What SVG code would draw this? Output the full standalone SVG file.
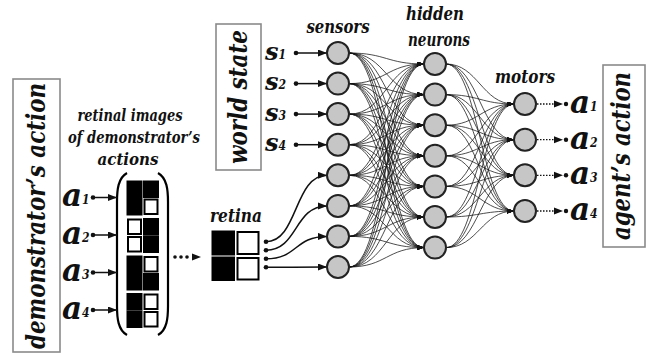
<svg xmlns="http://www.w3.org/2000/svg" width="648" height="356" viewBox="0 0 648 356">
<style>
.lbl{font-family:"DejaVu Serif","Liberation Serif",serif;font-stretch:condensed;font-weight:bold;font-style:italic;fill:#111}
.sym{font-family:"DejaVu Serif",serif;font-weight:bold;font-style:italic;fill:#111}
.sub{font-family:"DejaVu Serif",serif;font-stretch:condensed;font-weight:bold;font-style:italic;font-size:12px}
.box{fill:#fff;stroke:#8a8a8a;stroke-width:1.6}
.node{fill:#c6c6c6;stroke:#222;stroke-width:2}
.web{fill:none;stroke:#111;stroke-width:0.75;marker-end:url(#wh)}
.arr{fill:none;stroke:#111;stroke-width:1.5;marker-end:url(#ah)}
.blk{fill:#000;stroke:#000;stroke-width:1}
.wht{fill:#fff;stroke:#000;stroke-width:2}
.dot{fill:#111}
</style>
<defs>
<marker id="ah" markerUnits="userSpaceOnUse" markerWidth="10" markerHeight="8" refX="9" refY="3.5" orient="auto"><path d="M0,0 L9,3.5 L0,7 z" fill="#111"/></marker>
<marker id="wh" markerUnits="userSpaceOnUse" markerWidth="8" markerHeight="6" refX="7" refY="2.5" orient="auto"><path d="M0,0 L7,2.5 L0,5 z" fill="#111"/></marker>
</defs>
<rect width="648" height="356" fill="#fff"/>

<g id="demonstrators-action">
<rect class="box" x="13" y="79" width="47" height="273"/>
<text class="lbl" font-size="26" text-anchor="middle" textLength="266" lengthAdjust="spacingAndGlyphs" transform="translate(45,216) rotate(-90)">demonstrator’s action</text>
</g>

<g id="retinal-images-label" class="lbl" font-size="16" text-anchor="middle">
<text x="130" y="121" textLength="105" lengthAdjust="spacingAndGlyphs">retinal images</text>
<text x="134" y="143" textLength="132" lengthAdjust="spacingAndGlyphs">of demonstrator’s</text>
<text x="128" y="165" textLength="61" lengthAdjust="spacingAndGlyphs">actions</text>
</g>

<g id="input-actions">
<text class="sym" font-size="31" x="62" y="206">a<tspan class="sub" dy="-2">1</tspan></text>
<text class="sym" font-size="31" x="62" y="243.5">a<tspan class="sub" dy="-2">2</tspan></text>
<text class="sym" font-size="31" x="62" y="281">a<tspan class="sub" dy="-2">3</tspan></text>
<text class="sym" font-size="31" x="62" y="318.5">a<tspan class="sub" dy="-2">4</tspan></text>
</g>

<g id="matrix">
<path d="M127,173 C118,178 117,190 117,202 L117,306 C117,318 118,330 127,335" fill="none" stroke="#000" stroke-width="2.2"/>
<path d="M158,173 C167,178 168,190 168,202 L168,306 C168,318 167,330 158,335" fill="none" stroke="#000" stroke-width="2.2"/>
<rect class="blk" x="127" y="181" width="15" height="16.5"/><rect class="blk" x="143.5" y="181" width="15" height="16.5"/>
<rect class="blk" x="127" y="198.5" width="15" height="16.5"/><rect class="wht" x="144.5" y="199.5" width="13" height="14.5"/>
<rect class="wht" x="128" y="219.5" width="13" height="14.5"/><rect class="blk" x="143.5" y="218.5" width="15" height="16.5"/>
<rect class="wht" x="128" y="237" width="13" height="14.5"/><rect class="blk" x="143.5" y="236" width="15" height="16.5"/>
<rect class="blk" x="127" y="256" width="15" height="16.5"/><rect class="wht" x="144.5" y="257" width="13" height="14.5"/>
<rect class="blk" x="127" y="273.5" width="15" height="16.5"/><rect class="blk" x="143.5" y="273.5" width="15" height="16.5"/>
<rect class="blk" x="127" y="293.5" width="15" height="16.5"/><rect class="wht" x="144.5" y="294.5" width="13" height="14.5"/>
<rect class="blk" x="127" y="311" width="15" height="16.5"/><rect class="wht" x="144.5" y="312" width="13" height="14.5"/>
</g>

<g id="retina">
<text class="lbl" font-size="18" x="236" y="222" text-anchor="middle" textLength="52" lengthAdjust="spacingAndGlyphs">retina</text>
<rect class="blk" x="212" y="231" width="22.5" height="24"/>
<rect class="wht" x="237.5" y="232" width="21" height="22"/>
<rect class="blk" x="212" y="257" width="22.5" height="23.5"/>
<rect class="wht" x="237.5" y="258" width="21" height="21.5"/>
</g>

<g id="world-state">
<rect class="box" x="216" y="24" width="45" height="146"/>
<text class="lbl" font-size="26" text-anchor="middle" textLength="134" lengthAdjust="spacingAndGlyphs" transform="translate(247,97) rotate(-90)">world state</text>
</g>

<g id="sensor-labels">
<text class="sym" font-size="24" x="265" y="59.5">s<tspan class="sub" dy="-1">1</tspan></text>
<text class="sym" font-size="24" x="265" y="90.1">s<tspan class="sub" dy="-1">2</tspan></text>
<text class="sym" font-size="24" x="265" y="120.6">s<tspan class="sub" dy="-1">3</tspan></text>
<text class="sym" font-size="24" x="265" y="151.2">s<tspan class="sub" dy="-1">4</tspan></text>
</g>

<g id="layer-labels" class="lbl" font-size="18" text-anchor="middle">
<text x="338" y="33" textLength="63" lengthAdjust="spacingAndGlyphs">sensors</text>
<text x="435" y="20" textLength="58" lengthAdjust="spacingAndGlyphs">hidden</text>
<text x="439" y="46" textLength="62" lengthAdjust="spacingAndGlyphs">neurons</text>
<text x="525" y="83" textLength="60" lengthAdjust="spacingAndGlyphs">motors</text>
</g>

<g id="connectors">
<g id="input-arrows">
<circle class="dot" cx="93" cy="197.5" r="2.3"/><path class="arr" d="M93,197.5 L117,197.5"/>
<circle class="dot" cx="93" cy="235" r="2.3"/><path class="arr" d="M93,235 L117,235"/>
<circle class="dot" cx="93" cy="272.5" r="2.3"/><path class="arr" d="M93,272.5 L117,272.5"/>
<circle class="dot" cx="93" cy="310" r="2.3"/><path class="arr" d="M93,310 L117,310"/>
<circle class="dot" cx="175" cy="257" r="1.8"/><circle class="dot" cx="181" cy="257" r="1.8"/><circle class="dot" cx="187" cy="257" r="1.8"/>
<path d="M192,253.5 L201,257 L192,260.5 z" fill="#111"/>
<circle class="dot" cx="296" cy="53" r="2.3"/><path class="arr" d="M296,53 L327,53"/>
<circle class="dot" cx="296" cy="83.6" r="2.3"/><path class="arr" d="M296,83.6 L327,83.6"/>
<circle class="dot" cx="296" cy="114.1" r="2.3"/><path class="arr" d="M296,114.1 L327,114.1"/>
<circle class="dot" cx="296" cy="144.7" r="2.3"/><path class="arr" d="M296,144.7 L327,144.7"/>
</g>
<g id="retina-links">
<circle class="dot" cx="266" cy="241.7" r="2.3"/><path class="arr" d="M266,241.7 C298,241.7 294,175.3 327,175.3"/>
<circle class="dot" cx="266" cy="250.2" r="2.3"/><path class="arr" d="M266,250.2 C298,250.2 294,205.9 327,205.9"/>
<circle class="dot" cx="266" cy="258.8" r="2.3"/><path class="arr" d="M266,258.8 C298,258.8 294,236.4 327,236.4"/>
<circle class="dot" cx="266" cy="267.3" r="2.3"/><path class="arr" d="M266,267.3 C290,267.3 300,267 327,267"/>
</g>
<g id="sensor-hidden">
<path class="web" d="M349 53C386 53 387 64 424 64"/><path class="web" d="M349 53C386 53 387 94.6 424 94.6"/><path class="web" d="M349 53C386 53 387 125.2 424 125.2"/><path class="web" d="M349 53C386 53 387 155.8 424 155.8"/><path class="web" d="M349 53C386 53 387 186.4 424 186.4"/><path class="web" d="M349 53C386 53 387 217 424 217"/><path class="web" d="M349 53C386 53 387 247.6 424 247.6"/>
<path class="web" d="M349 83.6C386 83.6 387 64 424 64"/><path class="web" d="M349 83.6C386 83.6 387 94.6 424 94.6"/><path class="web" d="M349 83.6C386 83.6 387 125.2 424 125.2"/><path class="web" d="M349 83.6C386 83.6 387 155.8 424 155.8"/><path class="web" d="M349 83.6C386 83.6 387 186.4 424 186.4"/><path class="web" d="M349 83.6C386 83.6 387 217 424 217"/><path class="web" d="M349 83.6C386 83.6 387 247.6 424 247.6"/>
<path class="web" d="M349 114.1C386 114.1 387 64 424 64"/><path class="web" d="M349 114.1C386 114.1 387 94.6 424 94.6"/><path class="web" d="M349 114.1C386 114.1 387 125.2 424 125.2"/><path class="web" d="M349 114.1C386 114.1 387 155.8 424 155.8"/><path class="web" d="M349 114.1C386 114.1 387 186.4 424 186.4"/><path class="web" d="M349 114.1C386 114.1 387 217 424 217"/><path class="web" d="M349 114.1C386 114.1 387 247.6 424 247.6"/>
<path class="web" d="M349 144.7C386 144.7 387 64 424 64"/><path class="web" d="M349 144.7C386 144.7 387 94.6 424 94.6"/><path class="web" d="M349 144.7C386 144.7 387 125.2 424 125.2"/><path class="web" d="M349 144.7C386 144.7 387 155.8 424 155.8"/><path class="web" d="M349 144.7C386 144.7 387 186.4 424 186.4"/><path class="web" d="M349 144.7C386 144.7 387 217 424 217"/><path class="web" d="M349 144.7C386 144.7 387 247.6 424 247.6"/>
<path class="web" d="M349 175.3C386 175.3 387 64 424 64"/><path class="web" d="M349 175.3C386 175.3 387 94.6 424 94.6"/><path class="web" d="M349 175.3C386 175.3 387 125.2 424 125.2"/><path class="web" d="M349 175.3C386 175.3 387 155.8 424 155.8"/><path class="web" d="M349 175.3C386 175.3 387 186.4 424 186.4"/><path class="web" d="M349 175.3C386 175.3 387 217 424 217"/><path class="web" d="M349 175.3C386 175.3 387 247.6 424 247.6"/>
<path class="web" d="M349 205.9C386 205.9 387 64 424 64"/><path class="web" d="M349 205.9C386 205.9 387 94.6 424 94.6"/><path class="web" d="M349 205.9C386 205.9 387 125.2 424 125.2"/><path class="web" d="M349 205.9C386 205.9 387 155.8 424 155.8"/><path class="web" d="M349 205.9C386 205.9 387 186.4 424 186.4"/><path class="web" d="M349 205.9C386 205.9 387 217 424 217"/><path class="web" d="M349 205.9C386 205.9 387 247.6 424 247.6"/>
<path class="web" d="M349 236.4C386 236.4 387 64 424 64"/><path class="web" d="M349 236.4C386 236.4 387 94.6 424 94.6"/><path class="web" d="M349 236.4C386 236.4 387 125.2 424 125.2"/><path class="web" d="M349 236.4C386 236.4 387 155.8 424 155.8"/><path class="web" d="M349 236.4C386 236.4 387 186.4 424 186.4"/><path class="web" d="M349 236.4C386 236.4 387 217 424 217"/><path class="web" d="M349 236.4C386 236.4 387 247.6 424 247.6"/>
<path class="web" d="M349 267C386 267 387 64 424 64"/><path class="web" d="M349 267C386 267 387 94.6 424 94.6"/><path class="web" d="M349 267C386 267 387 125.2 424 125.2"/><path class="web" d="M349 267C386 267 387 155.8 424 155.8"/><path class="web" d="M349 267C386 267 387 186.4 424 186.4"/><path class="web" d="M349 267C386 267 387 217 424 217"/><path class="web" d="M349 267C386 267 387 247.6 424 247.6"/>
</g>
<g id="hidden-motor">
<path class="web" d="M446 64C478 64 482 104 514 104"/><path class="web" d="M446 64C478 64 482 139.7 514 139.7"/><path class="web" d="M446 64C478 64 482 175.3 514 175.3"/><path class="web" d="M446 64C478 64 482 211 514 211"/>
<path class="web" d="M446 94.6C478 94.6 482 104 514 104"/><path class="web" d="M446 94.6C478 94.6 482 139.7 514 139.7"/><path class="web" d="M446 94.6C478 94.6 482 175.3 514 175.3"/><path class="web" d="M446 94.6C478 94.6 482 211 514 211"/>
<path class="web" d="M446 125.2C478 125.2 482 104 514 104"/><path class="web" d="M446 125.2C478 125.2 482 139.7 514 139.7"/><path class="web" d="M446 125.2C478 125.2 482 175.3 514 175.3"/><path class="web" d="M446 125.2C478 125.2 482 211 514 211"/>
<path class="web" d="M446 155.8C478 155.8 482 104 514 104"/><path class="web" d="M446 155.8C478 155.8 482 139.7 514 139.7"/><path class="web" d="M446 155.8C478 155.8 482 175.3 514 175.3"/><path class="web" d="M446 155.8C478 155.8 482 211 514 211"/>
<path class="web" d="M446 186.4C478 186.4 482 104 514 104"/><path class="web" d="M446 186.4C478 186.4 482 139.7 514 139.7"/><path class="web" d="M446 186.4C478 186.4 482 175.3 514 175.3"/><path class="web" d="M446 186.4C478 186.4 482 211 514 211"/>
<path class="web" d="M446 217C478 217 482 104 514 104"/><path class="web" d="M446 217C478 217 482 139.7 514 139.7"/><path class="web" d="M446 217C478 217 482 175.3 514 175.3"/><path class="web" d="M446 217C478 217 482 211 514 211"/>
<path class="web" d="M446 247.6C478 247.6 482 104 514 104"/><path class="web" d="M446 247.6C478 247.6 482 139.7 514 139.7"/><path class="web" d="M446 247.6C478 247.6 482 175.3 514 175.3"/><path class="web" d="M446 247.6C478 247.6 482 211 514 211"/>
</g>
<g id="output-arrows">
<path d="M537,104 L556,104 M537,139.7 L556,139.7 M537,175.3 L556,175.3 M537,211 L556,211" stroke="#111" stroke-width="1.3" stroke-dasharray="1.5 1.5"/>
<path d="M554,100.5 L563,104 L554,107.5 z M554,136.2 L563,139.7 L554,143.2 z M554,171.8 L563,175.3 L554,178.8 z M554,207.5 L563,211 L554,214.5 z" fill="#111"/>
<circle class="dot" cx="566" cy="104" r="2.2"/><circle class="dot" cx="566" cy="139.7" r="2.2"/><circle class="dot" cx="566" cy="175.3" r="2.2"/><circle class="dot" cx="566" cy="211" r="2.2"/>
</g>
</g>

<g id="sensors">
<circle class="node" cx="338" cy="53" r="11"/><circle class="node" cx="338" cy="83.6" r="11"/><circle class="node" cx="338" cy="114.1" r="11"/><circle class="node" cx="338" cy="144.7" r="11"/>
<circle class="node" cx="338" cy="175.3" r="11"/><circle class="node" cx="338" cy="205.9" r="11"/><circle class="node" cx="338" cy="236.4" r="11"/><circle class="node" cx="338" cy="267" r="11"/>
</g>
<g id="hidden-neurons">
<circle class="node" cx="435" cy="64" r="11"/><circle class="node" cx="435" cy="94.6" r="11"/><circle class="node" cx="435" cy="125.2" r="11"/><circle class="node" cx="435" cy="155.8" r="11"/>
<circle class="node" cx="435" cy="186.4" r="11"/><circle class="node" cx="435" cy="217" r="11"/><circle class="node" cx="435" cy="247.6" r="11"/>
</g>
<g id="motors">
<circle class="node" cx="525" cy="104" r="11"/><circle class="node" cx="525" cy="139.7" r="11"/><circle class="node" cx="525" cy="175.3" r="11"/><circle class="node" cx="525" cy="211" r="11"/>
</g>

<g id="output-actions">
<text class="sym" font-size="31" x="570" y="113">a<tspan class="sub" dy="-2">1</tspan></text>
<text class="sym" font-size="31" x="570" y="148.7">a<tspan class="sub" dy="-2">2</tspan></text>
<text class="sym" font-size="31" x="570" y="184.3">a<tspan class="sub" dy="-2">3</tspan></text>
<text class="sym" font-size="31" x="570" y="220">a<tspan class="sub" dy="-2">4</tspan></text>
</g>

<g id="agents-action">
<rect class="box" x="603" y="65" width="42" height="182"/>
<text class="lbl" font-size="26" text-anchor="middle" textLength="168" lengthAdjust="spacingAndGlyphs" transform="translate(630,156) rotate(-90)">agent’s action</text>
</g>
</svg>
